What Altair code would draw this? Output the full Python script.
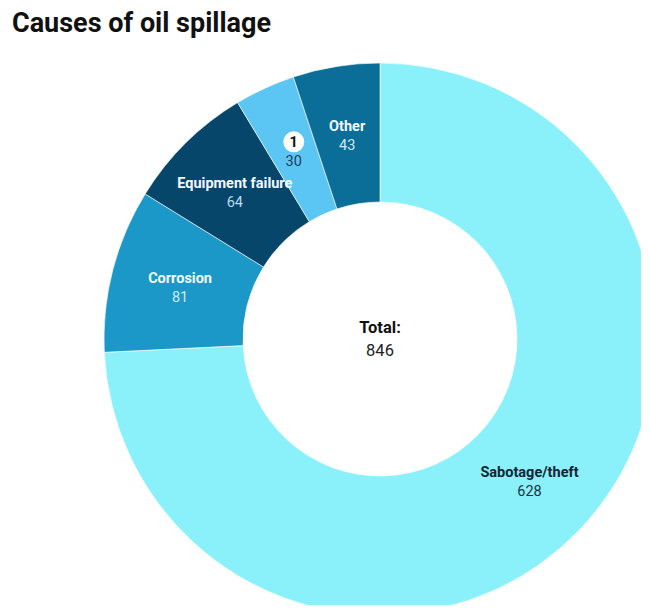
import math
import altair as alt
import pandas as pd

causes = ["Sabotage/theft", "Corrosion", "Equipment failure", "1", "Other"]
counts = [628, 81, 64, 30, 43]
slice_colors = ["#8AF1FA", "#1C98C8", "#06466B", "#5BC6F3", "#0B6E99"]
name_colors = ["#0F2535", "#F2FAFF", "#F2FAFF", "#111111", "#F2FAFF"]
value_colors = ["#1D3344", "#C8EBF8", "#B4DDF0", "#1A3D5A", "#C8EBF8"]
order_idx = [0, 1, 2, 3, 4]

df = pd.DataFrame({
    "cause": causes,
    "count": counts,
    "fill": slice_colors,
    "ncol": name_colors,
    "vcol": value_colors,
    "idx": order_idx,
})

TOP = 40
CX, CY = 372, 331 - TOP
R_IN, R_OUT = 137, 276
R_LAB = (R_IN + R_OUT) / 2
FONT = "Roboto"

base = alt.Chart(df).encode(
    theta=alt.Theta("count:Q", stack=True),
    order=alt.Order("idx:Q", sort="ascending"),
)

arcs = base.mark_arc(
    innerRadius=R_IN, outerRadius=R_OUT, x=CX, y=CY,
    stroke="white", strokeWidth=0.6,
).encode(color=alt.Color("fill:N", scale=None))

# white marker disc behind the "1" label, placed at the slice's mid-angle
badge = alt.Chart(df).transform_joinaggregate(
    total="sum(count)"
).transform_window(
    cum="sum(count)", sort=[alt.SortField("idx")], frame=[None, 0]
).transform_calculate(
    mid="(datum.cum - datum.count / 2) / datum.total * 2 * PI",
    bx=f"{CX} + {R_LAB} * sin(datum.mid)",
    by=f"{CY} - {R_LAB} * cos(datum.mid) - 9.5",
).transform_filter(
    alt.datum.cause == "1"
).mark_arc(
    color="white", outerRadius=10.5, innerRadius=0,
    theta=0, theta2=2 * math.pi,
).encode(
    x=alt.X("bx:Q", scale=None, axis=None),
    y=alt.Y("by:Q", scale=None, axis=None),
)

names = base.mark_text(
    radius=R_LAB, x=CX, y=CY, dy=-8.5, fontSize=14.5, font=FONT,
    fontWeight="bold", baseline="middle", align="center",
).encode(
    text="cause:N",
    color=alt.Color("ncol:N", scale=None),
)

values = base.mark_text(
    radius=R_LAB, x=CX, y=CY, dy=11, fontSize=14.5, font=FONT,
    baseline="middle", align="center",
).encode(
    text="count:Q",
    color=alt.Color("vcol:N", scale=None),
)

total_base = alt.Chart(df).transform_aggregate(total="sum(count)")
total_label = total_base.mark_text(
    x=CX, y=CY, dy=-11, fontSize=16.5, font=FONT, fontWeight="bold",
    color="#111111", baseline="middle", align="center",
).encode(text=alt.value("Total:"))
total_value = total_base.mark_text(
    x=CX, y=CY, dy=12, fontSize=16.5, font=FONT,
    color="#222222", baseline="middle", align="center",
).encode(text="total:Q")

chart = alt.layer(arcs, badge, names, values, total_label, total_value).properties(
    width=633,
    height=597 - TOP,
    padding={"left": 0, "top": TOP, "right": 0, "bottom": 0},
    autosize=alt.AutoSizeParams(type="none"),
    title=alt.TitleParams(
        "Causes of oil spillage", anchor="start", font=FONT, fontSize=27,
        fontWeight="bold", color="#111111", dx=4, dy=-6,
    ),
).configure_view(stroke=None)

chart.save("out.html", embed_options={"renderer": "svg", "actions": False})
